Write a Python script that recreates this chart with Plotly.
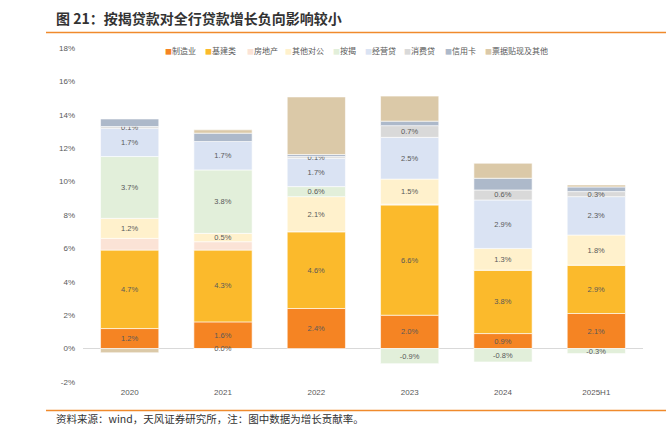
import plotly.graph_objects as go

categories = ["2020", "2021", "2022", "2023", "2024", "2025H1"]

series_names = ["制造业", "基建类", "房地产", "其他对公", "按揭", "经营贷", "消费贷", "信用卡", "票据贴现及其他"]

manufacturing = [1.2, 1.6, 2.4, 2.0, 0.9, 2.1]
infrastructure = [4.7, 4.3, 4.6, 6.6, 3.8, 2.9]
real_estate = [0.7, 0.5, 0.0, 0.05, 0.0, 0.0]
other_corporate = [1.2, 0.5, 2.1, 1.5, 1.3, 1.8]
mortgage = [3.7, 3.8, 0.6, -0.9, -0.8, -0.3]
business_loan = [1.7, 1.7, 1.7, 2.5, 2.9, 2.3]
consumer_loan = [0.1, -0.02, 0.1, 0.7, 0.6, 0.3]
credit_card = [0.45, 0.5, 0.12, 0.27, 0.7, 0.28]
bills_other = [-0.25, 0.2, 3.45, 1.5, 0.9, 0.12]

series_values = [manufacturing, infrastructure, real_estate, other_corporate, mortgage,
                 business_loan, consumer_loan, credit_card, bills_other]
series_colors = ["#F58423", "#FBBA2C", "#FBE3D6", "#FFF1CC", "#E2EFDA",
                 "#DAE3F3", "#D9D9D9", "#ADB9CA", "#DBC9A8"]
labeled = [True, True, False, True, True, True, True, False, False]

y_ticks = [-2, 0, 2, 4, 6, 8, 10, 12, 14, 16, 18]
y_tick_labels = [f"{t}%" for t in y_ticks]

# layout geometry (pixels)
W, H = 666, 427
ML, MR, MT, MB = 83, 23, 48, 45
PW, PH = W - ML - MR, H - MT - MB


def px_x(p):
    return (p - ML) / PW


def px_y(p):
    return (H - MB - p) / PH


fig = go.Figure()
for name, vals, color, lab in zip(series_names, series_values, series_colors, labeled):
    texts = [f"{v:.1f}%".replace("-0.0%", "0.0%") for v in vals] if lab else None
    fig.add_trace(go.Bar(
        name=name, x=categories, y=vals,
        marker=dict(color=color, line=dict(width=0.6, color="white")),
        text=texts, textposition="inside" if lab else "none",
        insidetextanchor="middle", textangle=0,
        textfont=dict(size=7.5, color="#595959", family="Liberation Sans, Arial, sans-serif"),
        hoverinfo="skip",
    ))

fig.update_layout(
    barmode="relative",
    bargap=0.376,
    width=W, height=H,
    margin=dict(l=ML, r=MR, t=MT, b=MB, autoexpand=False),
    paper_bgcolor="white", plot_bgcolor="white",
    font=dict(family="Liberation Sans, Arial, sans-serif", color="#595959", size=8),
    uniformtext=dict(minsize=7.5, mode="show"),
    showlegend=False,
    xaxis=dict(showline=False, ticks="", showgrid=False, zeroline=False,
               tickfont=dict(size=8, color="#595959"), ticklabelstandoff=4),
    yaxis=dict(range=[-2, 18], tickvals=y_ticks, ticktext=y_tick_labels,
               showgrid=False, showline=False, zeroline=True, zerolinecolor="#D9D9D9",
               zerolinewidth=1, ticks="", tickfont=dict(size=8, color="#595959"),
               ticklabelstandoff=7),
)

# legend drawn as text entries
legend_x = [163, 203, 245, 283, 331, 363, 402, 443, 483]
for name, color, lx in zip(series_names, series_colors, legend_x):
    fig.add_annotation(
        text=f"<span style='color:{color};font-size:7px'>■</span>{name}",
        xref="paper", yref="paper", x=px_x(lx), y=px_y(50),
        xanchor="left", yanchor="middle", showarrow=False,
        font=dict(size=8, color="#595959", family="Noto Sans CJK SC"))

# title and decorative lines
fig.add_annotation(text="<b>图 21：按揭贷款对全行贷款增长负向影响较小</b>", xref="paper", yref="paper",
                   x=px_x(54), y=px_y(18), xanchor="left", yanchor="middle",
                   showarrow=False, font=dict(size=14, color="#333333", family="Noto Sans CJK SC"))
fig.add_shape(type="line", xref="paper", yref="paper",
              x0=px_x(46), x1=px_x(666), y0=px_y(32.5), y1=px_y(32.5),
              line=dict(color="#F08A2C", width=1.5))
fig.add_shape(type="line", xref="paper", yref="paper",
              x0=px_x(46), x1=px_x(666), y0=px_y(410.5), y1=px_y(410.5),
              line=dict(color="#F08A2C", width=1.5))
fig.add_annotation(text="资料来源：wind，天风证券研究所，注：图中数据为增长贡献率。", xref="paper", yref="paper",
                   x=px_x(54), y=px_y(418.5), xanchor="left", yanchor="middle",
                   showarrow=False, font=dict(size=10.5, color="#333333", family="Noto Sans CJK SC"))

fig.write_html("out.html",
               config={"displayModeBar": False},
               post_script="document.body.style.margin='0';document.body.style.overflow='hidden';")
